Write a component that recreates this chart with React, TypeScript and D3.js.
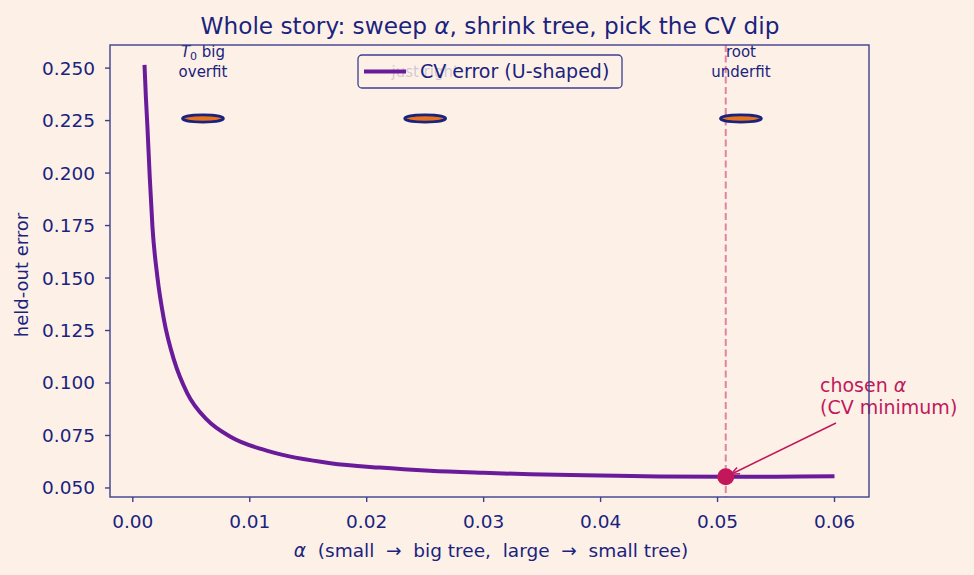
import React from "react";
import * as d3 from "d3";

// CV error along the cost-complexity sweep
const alphaValues = [
  0.001, 0.00112, 0.00125, 0.00145, 0.00168, 0.0021, 0.00267, 0.00352, 0.00466, 0.00636,
  0.00835, 0.01175, 0.0169, 0.0211, 0.0254, 0.03, 0.034, 0.04, 0.045, 0.0507, 0.055, 0.06,
];
const cvError = [
  0.2515, 0.236, 0.222, 0.198, 0.1744, 0.1506, 0.13, 0.111, 0.0951, 0.0824,
  0.0744, 0.0673, 0.0618, 0.0597, 0.0582, 0.0572, 0.0565, 0.0559, 0.0555, 0.0553, 0.0554, 0.0556,
];

// Tree snapshots drawn above the curve
const snapshotAlpha = [0.006, 0.025, 0.052];
const snapshotLevel = 0.226;

const chosenAlpha = 0.0507;
const chosenError = 0.0553;

const xTicks = [0, 0.01, 0.02, 0.03, 0.04, 0.05, 0.06];
const yTicks = [0.05, 0.075, 0.1, 0.125, 0.15, 0.175, 0.2, 0.225, 0.25];

const W = 974;
const H = 575;
const left = 110;
const right = 869;
const top = 45;
const bottom = 497;

const BG = "#fdf1e7";
const NAVY = "#1a237e";
const SPINE = "#3c3f8f";
const PURPLE = "#6a1b9a";
const CRIMSON = "#c2185b";
const ORANGE = "#e8711c";
const FONT = "DejaVu Sans, Liberation Sans, sans-serif";

export default function App() {
  const x = d3.scaleLinear().domain([-0.00195, 0.06295]).range([left, right]);
  const y = d3.scaleLinear().domain([0.0457, 0.261]).range([bottom, top]);

  const pts: [number, number][] = alphaValues.map((a, i) => [a, cvError[i]]);
  const line = d3
    .line<[number, number]>()
    .x((d) => x(d[0]))
    .y((d) => y(d[1]))
    .curve(d3.curveMonotoneX);

  const cx = x(chosenAlpha);
  const cy = y(chosenError);
  const textX = 820;
  const arrowStart: [number, number] = [836, 423];
  const ang = Math.atan2(cy - arrowStart[1], cx - arrowStart[0]);
  const tip: [number, number] = [cx + 6 * Math.cos(ang + Math.PI), cy + 6 * Math.sin(ang + Math.PI)];
  const head = 9;
  const spread = 0.4;
  const h1: [number, number] = [tip[0] - head * Math.cos(ang - spread), tip[1] - head * Math.sin(ang - spread)];
  const h2: [number, number] = [tip[0] - head * Math.cos(ang + spread), tip[1] - head * Math.sin(ang + spread)];

  const snapLabels = [
    { a: snapshotAlpha[0], lines: ["T0 big", "overfit"] },
    { a: snapshotAlpha[1], lines: ["just right"] },
    { a: snapshotAlpha[2], lines: ["root", "underfit"] },
  ];

  return (
    <svg
      width={W}
      height={H}
      style={{ position: "fixed", left: 0, top: 0, background: BG }}
      fontFamily={FONT}
    >
      <rect x={0} y={0} width={W} height={H} fill={BG} />
      <text x={490} y={34} textAnchor="middle" fontSize={23.2} fill={NAVY}>
        Whole story: sweep <tspan fontStyle="italic">α</tspan>, shrink tree, pick the CV dip
      </text>

      {/* chosen alpha marker line */}
      <line
        x1={cx}
        x2={cx}
        y1={top}
        y2={bottom}
        stroke={CRIMSON}
        strokeOpacity={0.5}
        strokeWidth={2}
        strokeDasharray="7,3.5"
      />

      {/* snapshot labels */}
      {snapLabels.map((s, i) => (
        <text key={i} x={x(s.a)} textAnchor="middle" fontSize={15} fill={NAVY}>
          {s.lines.length === 1 ? (
            <tspan x={x(s.a)} y={77}>
              {s.lines[0]}
            </tspan>
          ) : (
            <>
              <tspan x={x(s.a)} y={57}>
                {s.lines[0].startsWith("T0") ? (
                  <>
                    <tspan fontStyle="italic">T</tspan>
                    <tspan fontSize={11} dy={3}>0</tspan>
                    <tspan dy={-3}> big</tspan>
                  </>
                ) : (
                  s.lines[0]
                )}
              </tspan>
              <tspan x={x(s.a)} y={77}>
                {s.lines[1]}
              </tspan>
            </>
          )}
        </text>
      ))}

      {/* snapshot trees */}
      {snapshotAlpha.map((a, i) => (
        <ellipse
          key={i}
          cx={x(a)}
          cy={y(snapshotLevel)}
          rx={20.5}
          ry={3.6}
          fill={ORANGE}
          stroke={NAVY}
          strokeWidth={2.6}
        />
      ))}

      {/* CV curve */}
      <path d={line(pts) || ""} fill="none" stroke={PURPLE} strokeWidth={4} strokeLinejoin="round" />
      <circle cx={cx} cy={cy} r={8.5} fill={CRIMSON} />

      {/* annotation */}
      <line x1={arrowStart[0]} y1={arrowStart[1]} x2={tip[0]} y2={tip[1]} stroke={CRIMSON} strokeWidth={1.5} />
      <polyline
        points={`${h1[0]},${h1[1]} ${tip[0]},${tip[1]} ${h2[0]},${h2[1]}`}
        fill="none"
        stroke={CRIMSON}
        strokeWidth={1.5}
      />
      <text x={textX} fontSize={19} fill={CRIMSON}>
        <tspan x={textX} y={392}>
          chosen <tspan fontStyle="italic">α</tspan>
        </tspan>
        <tspan x={textX} y={414}>
          (CV minimum)
        </tspan>
      </text>

      {/* spines */}
      <rect x={left} y={top} width={right - left} height={bottom - top} fill="none" stroke={SPINE} strokeWidth={1.4} />

      {/* y axis */}
      {yTicks.map((t) => (
        <g key={t}>
          <line x1={left - 5} x2={left} y1={y(t)} y2={y(t)} stroke={SPINE} strokeWidth={1.4} />
          <text x={left - 15} y={y(t)} dy="0.35em" textAnchor="end" fontSize={18.5} fill={NAVY}>
            {t.toFixed(3)}
          </text>
        </g>
      ))}
      {/* x axis */}
      {xTicks.map((t) => (
        <g key={t}>
          <line x1={x(t)} x2={x(t)} y1={bottom} y2={bottom + 5} stroke={SPINE} strokeWidth={1.4} />
          <text x={x(t)} y={528} textAnchor="middle" fontSize={18.5} fill={NAVY}>
            {t.toFixed(2)}
          </text>
        </g>
      ))}
      <text x={491} y={557} textAnchor="middle" fontSize={18.5} fill={NAVY} style={{ whiteSpace: "pre" }}>
        <tspan fontStyle="italic">α</tspan>
        {"  (small  →  big tree,  large  →  small tree)"}
      </text>
      <text
        transform={`translate(28,275) rotate(-90)`}
        textAnchor="middle"
        fontSize={18}
        fill={NAVY}
      >
        held-out error
      </text>

      {/* legend */}
      <rect x={358} y={55} width={264} height={33} rx={4} fill={BG} fillOpacity={0.8} stroke={SPINE} strokeWidth={1.3} />
      <line x1={364} x2={406} y1={71.5} y2={71.5} stroke={PURPLE} strokeWidth={4} />
      <text x={420} y={78} fontSize={19} fill={NAVY}>
        CV error (U-shaped)
      </text>
    </svg>
  );
}
